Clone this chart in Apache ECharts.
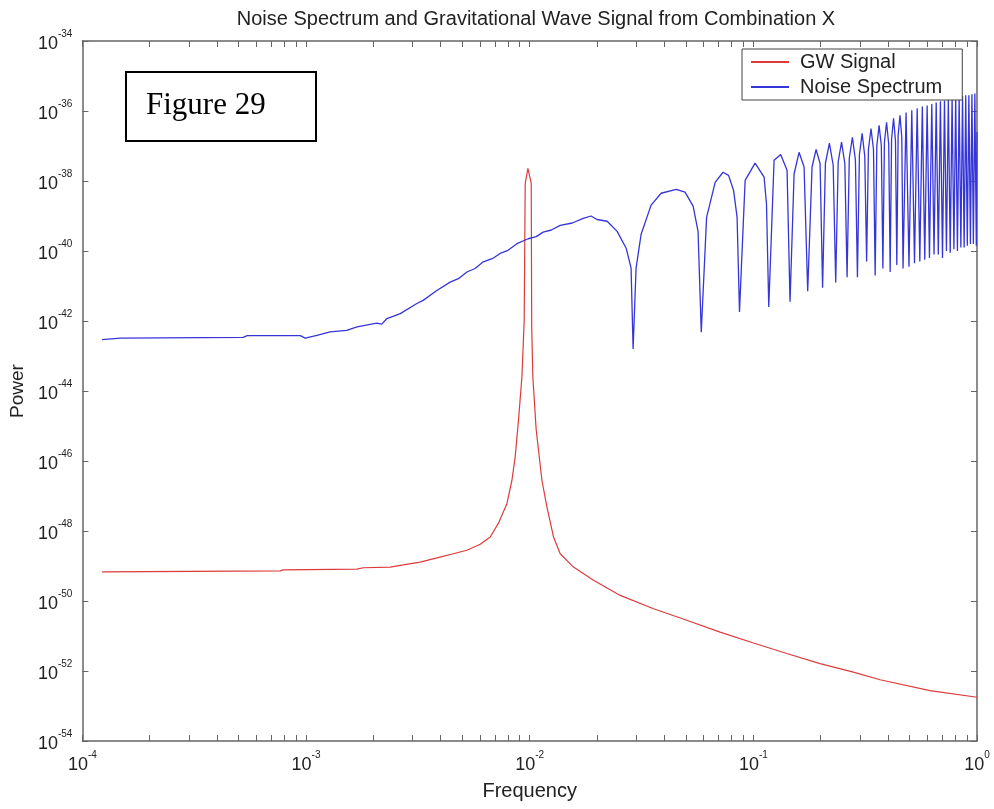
<!DOCTYPE html>
<html><head><meta charset="utf-8">
<script src="https://cdn.jsdelivr.net/npm/echarts@6/dist/echarts.min.js"></script>
<style>html,body{margin:0;padding:0;background:#fff}#c{width:994px;height:809px}</style>
</head><body><div id="c"></div>
<script>
// ---- tick definitions (exponents of 10) ----
const xTickExponents = [-4, -3, -2, -1, 0];
const xMinorMultipliers = [2, 3, 4, 5, 6, 7, 8, 9];
const yTickExponents = [-54, -52, -50, -48, -46, -44, -42, -40, -38, -36, -34];

// ---- GW Signal (frequency in Hz, log10 of power) ----
const gwFreq = [1.225e-4, 7.67e-4, 7.91e-4, 1.69e-3, 1.80e-3, 2.38e-3, 2.72e-3, 3.24e-3, 3.85e-3, 4.55e-3,
  5.24e-3, 6.01e-3, 6.66e-3, 7.23e-3, 7.91e-3, 8.33e-3, 8.61e-3, 8.91e-3, 9.23e-3, 9.45e-3,
  9.55e-3, 9.82e-3, 1.016e-2, 1.021e-2, 1.033e-2, 1.069e-2, 1.134e-2, 1.194e-2, 1.278e-2, 1.369e-2,
  1.570e-2, 1.929e-2, 2.54e-2, 3.58e-2, 5.04e-2, 7.10e-2, 0.1001, 0.1411, 0.1988, 0.280,
  0.3686, 0.6165, 1.0];
const gwLogPower = [-49.17, -49.14, -49.11, -49.09, -49.05, -49.03, -48.97, -48.89, -48.77, -48.65,
  -48.55, -48.38, -48.17, -47.79, -47.22, -46.55, -45.89, -44.84, -43.6, -41.98,
  -38.07, -37.64, -38.07, -42.18, -43.6, -45.1, -46.55, -47.31, -48.17, -48.65,
  -49.03, -49.41, -49.84, -50.22, -50.55, -50.89, -51.2, -51.5, -51.79, -52.03,
  -52.25, -52.56, -52.75];

// ---- Noise Spectrum (frequency in Hz, log10 of power) ----
const noiseFreq = [1.225e-4, 1.48e-4, 5.24e-4, 5.45e-4, 9.42e-4, 9.92e-4, 1.119e-3, 1.28e-3, 1.52e-3, 1.69e-3,
  2.07e-3, 2.18e-3, 2.3e-3, 2.64e-3, 3.13e-3, 3.34e-3, 3.8e-3, 4.41e-3, 4.8e-3, 5.24e-3, 5.7e-3, 6.2e-3,
  6.8e-3, 7.38e-3, 8.0e-3, 8.77e-3, 9.85e-3, 1.07e-2, 1.149e-2, 1.25e-2, 1.369e-2, 1.55e-2, 1.735e-2, 1.88e-2, 2.0e-2, 2.22e-2, 2.46e-2, 2.70e-2,
  2.84e-2, 0.0290, 2.99e-2, 3.15e-2, 3.49e-2, 3.87e-2, 4.52e-2, 4.95e-2, 5.38e-2, 5.66e-2,
  0.0585, 6.18e-2, 6.75e-2, 7.32e-2, 7.75e-2, 8.16e-2, 8.46e-2, 0.0867, 9.19e-2, 0.1018,
  0.1117, 0.1145, 0.1172, 0.1238, 0.1325, 0.1415, 0.1459, 0.1521, 0.1601, 0.1686,
  0.1750, 0.1830, 0.1908, 0.1988, 0.2040,
  0.2100, 0.2188, 0.2275, 0.2335,
  0.2395, 0.2480, 0.2565, 0.2625,
  0.2685, 0.2772, 0.2860, 0.2920,
  0.2980, 0.3065, 0.3150, 0.3210,
  0.3270, 0.3358, 0.3445, 0.3505,
  0.3565, 0.3650, 0.3735, 0.3795,
  0.3855, 0.3942, 0.4030, 0.4090,
  0.4150, 0.4235, 0.4320, 0.4380,
  0.4440, 0.4525, 0.4610, 0.4670,
  0.4818, 0.4965, 0.5110, 0.5255, 0.5402, 0.5550, 0.5695, 0.5840, 0.5985, 0.6130,
  0.6278, 0.6425, 0.6570, 0.6715, 0.6862, 0.7010, 0.7155, 0.7300, 0.7445, 0.7590,
  0.7738, 0.7885, 0.8030, 0.8175, 0.8322, 0.8470, 0.8615, 0.8760, 0.8905, 0.9050,
  0.9198, 0.9345, 0.9490, 0.9635, 0.9782, 0.9930, 1.0];
const noiseLogPower = [-42.53, -42.49, -42.47, -42.42, -42.42, -42.49, -42.41, -42.31, -42.27, -42.17,
  -42.06, -42.09, -41.93, -41.79, -41.5, -41.41, -41.15, -40.89, -40.79, -40.6, -40.5, -40.31,
  -40.22, -40.07, -39.98, -39.79, -39.65, -39.59, -39.46, -39.4, -39.27, -39.2, -39.07, -39.0, -39.1, -39.15, -39.44, -39.92,
  -40.49, -42.8, -40.49, -39.52, -38.69, -38.35, -38.24, -38.32, -38.72, -39.44,
  -42.32, -39.04, -38.04, -37.75, -37.84, -38.27, -39.04, -41.74, -37.98, -37.49,
  -37.89, -38.66, -41.6, -37.41, -37.24, -37.69, -41.45, -37.8, -37.18, -37.6,
  -41.15, -37.6, -37.1, -37.5, -41.05,
  -37.5, -36.92, -37.55, -40.9,
  -37.45, -36.89, -37.5, -40.75,
  -37.35, -36.75, -37.4, -40.75,
  -37.25, -36.64, -37.3, -40.3,
  -37.1, -36.5, -37.1, -40.7,
  -37.0, -36.41, -37.0, -40.5,
  -36.9, -36.32, -36.95, -40.6,
  -36.8, -36.21, -36.85, -40.4,
  -36.7, -36.12, -36.75, -40.5,
  -36.04, -40.45, -35.98, -40.35, -35.92, -40.3, -35.87, -40.25, -35.84, -40.2,
  -35.8, -40.1, -35.76, -40.1, -35.72, -40.2, -35.7, -40.0, -35.66, -40.05,
  -35.63, -39.95, -35.6, -40.0, -35.6, -39.9, -35.57, -39.9, -35.55, -39.85,
  -35.55, -39.8, -35.52, -39.8, -35.5, -39.85, -36.6];

const seriesNames = ['GW Signal', 'Noise Spectrum'];

// ---- build ----
const toPts = (f, p) => f.map((v, i) => [Math.log10(v), p[i]]);
const xTickValues = [];
xTickExponents.forEach((e, i) => {
  xTickValues.push(e);
  if (i < xTickExponents.length - 1) xMinorMultipliers.forEach(m => xTickValues.push(e + Math.log10(m)));
});

const FONT = 'Liberation Sans, Arial, sans-serif';
const TXT = '#222';
const AX = '#666';
const supRich = {
  b: { fontSize: 18, fontFamily: FONT, color: TXT, verticalAlign: 'bottom', lineHeight: 24 },
  s: { fontSize: 10, fontFamily: FONT, color: TXT, verticalAlign: 'top', lineHeight: 10 }
};
const supFmt = v => '{b|10}{s|' + Math.round(v) + '}';

const chart = echarts.init(document.getElementById('c'), null, { renderer: 'canvas' });
chart.setOption({
  animation: false,
  backgroundColor: '#fff',
  title: {
    text: 'Noise Spectrum and Gravitational Wave Signal from Combination X',
    left: 531, top: 4, textAlign: 'center',
    textStyle: { fontFamily: FONT, fontSize: 20, fontWeight: 'normal', color: TXT }
  },
  grid: { left: 82, right: 17, top: 41, bottom: 68 },
  legend: {
    data: seriesNames,
    orient: 'vertical',
    left: 742, top: 49,
    padding: [2, 20, 2, 9],
    itemGap: 3,
    itemWidth: 38, itemHeight: 2,
    icon: 'rect',
    backgroundColor: '#fff',
    borderColor: '#444', borderWidth: 1,
    textStyle: { fontFamily: FONT, fontSize: 20, color: TXT, lineHeight: 22, padding: [0, 0, 0, 6] }
  },
  xAxis: [{
    type: 'value', min: -4, max: 0, interval: 1,
    name: 'Frequency', nameLocation: 'middle', nameGap: 40,
    nameTextStyle: { fontFamily: FONT, fontSize: 20, color: TXT },
    axisLine: { onZero: false, lineStyle: { color: AX, width: 1.5 } },
    axisTick: { inside: true, length: 6, customValues: xTickValues, lineStyle: { color: AX } },
    axisLabel: { margin: 9, formatter: supFmt, rich: supRich, customValues: xTickExponents },
    splitLine: { show: false }
  }, {
    type: 'value', min: -4, max: 0, interval: 1, position: 'top',
    axisLine: { onZero: false, lineStyle: { color: AX, width: 1.5 } },
    axisTick: { inside: true, length: 6, customValues: xTickValues, lineStyle: { color: AX } },
    axisLabel: { show: false }, splitLine: { show: false }
  }],
  yAxis: [{
    type: 'value', min: -54, max: -34, interval: 2,
    name: 'Power', nameLocation: 'middle', nameGap: 50,
    nameTextStyle: { fontFamily: FONT, fontSize: 19, color: TXT },
    axisLine: { onZero: false, lineStyle: { color: AX, width: 1.5 } },
    axisTick: { inside: true, length: 6, lineStyle: { color: AX } },
    axisLabel: { margin: 10, formatter: supFmt, rich: supRich },
    splitLine: { show: false }
  }, {
    type: 'value', min: -54, max: -34, interval: 2, position: 'right',
    axisLine: { onZero: false, lineStyle: { color: AX, width: 1.5 } },
    axisTick: { inside: true, length: 6, lineStyle: { color: AX } },
    axisLabel: { show: false }, splitLine: { show: false }
  }],
  graphic: [{
    type: 'group', left: 125, top: 71,
    children: [
      { type: 'rect', shape: { x: 0, y: 0, width: 190, height: 69 }, style: { fill: '#fff', stroke: '#000', lineWidth: 2 } },
      { type: 'text', x: 20, y: 34, style: { text: 'Figure 29', font: '31px "Liberation Serif", "Times New Roman", serif', fill: '#000', textVerticalAlign: 'middle' } }
    ]
  }],
  series: [{
    name: seriesNames[0], type: 'line', showSymbol: false, symbol: 'none',
    lineStyle: { color: '#dd3b3b', width: 1.2 }, itemStyle: { color: '#dd3b3b' },
    data: toPts(gwFreq, gwLogPower), z: 2
  }, {
    name: seriesNames[1], type: 'line', showSymbol: false, symbol: 'none',
    lineStyle: { color: '#3535d8', width: 1.3 }, itemStyle: { color: '#3535d8' },
    data: toPts(noiseFreq, noiseLogPower), z: 3
  }]
});
</script></body></html>
